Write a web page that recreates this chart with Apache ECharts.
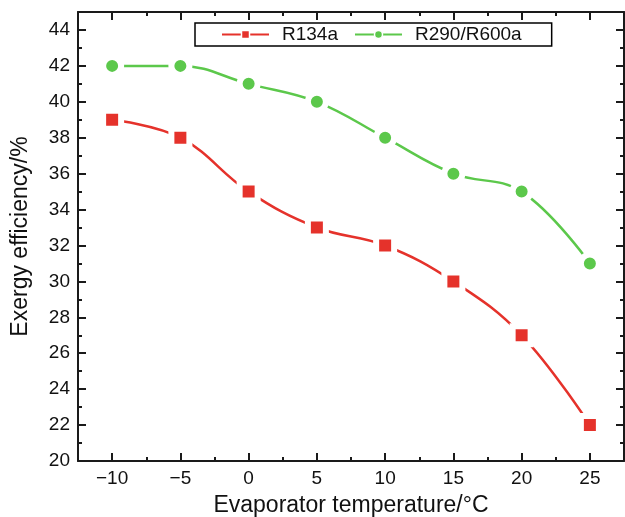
<!DOCTYPE html>
<html>
<head>
<meta charset="utf-8">
<script src="https://cdn.jsdelivr.net/npm/echarts@6/dist/echarts.min.js"></script>
<style>
  html, body { margin: 0; padding: 0; background: #fff; }
  #chart { width: 625px; height: 517px; }
</style>
</head>
<body>
<div id="chart"></div>
<script>
// Evaporator temperature (°C)
const temperatures = [-10, -5, 0, 5, 10, 15, 20, 25];
// Exergy efficiency (%) for each refrigerant
const r134a = [39, 38, 35, 33, 32, 30, 27, 22];
const r290r600a = [42, 42, 41, 40, 38, 36, 35, 31];
// Axis tick values
const xMajorTicks = [-10, -5, 0, 5, 10, 15, 20, 25];
const xMinorTicks = [-7.5, -2.5, 2.5, 7.5, 12.5, 17.5, 22.5];
const yMajorTicks = [20, 22, 24, 26, 28, 30, 32, 34, 36, 38, 40, 42, 44];
const yMinorTicks = [21, 23, 25, 27, 29, 31, 33, 35, 37, 39, 41, 43];

const FONT = '"Liberation Sans", Arial, Helvetica, sans-serif';
const X_MIN = -12.5, X_MAX = 27.5, Y_MIN = 20, Y_MAX = 45;
const lineColor = '#1a1a1a';

function axisDef(position, min, max, ticks, len, showLine, opts) {
  return Object.assign({
    type: 'value', position: position, min: min, max: max,
    splitLine: { show: false },
    axisLine: { show: showLine, onZero: false, lineStyle: { color: lineColor, width: 2 } },
    axisTick: { show: true, inside: true, length: len, customValues: ticks,
                lineStyle: { color: lineColor, width: 2 } },
    axisLabel: { show: false }
  }, opts || {});
}

const chart = echarts.init(document.getElementById('chart'), null, { renderer: 'canvas' });

chart.setOption({
  animation: false,
  backgroundColor: '#fff',
  grid: { left: 78, right: 1, top: 12, bottom: 56, outerBoundsMode: 'none' },
  legend: {
    left: 195, top: 23,
    orient: 'horizontal',
    borderColor: '#000', borderWidth: 1.5,
    padding: [2, 30, 2, 26],
    itemGap: 16,
    itemWidth: 47, itemHeight: 10,
    itemStyle: { borderWidth: 1.5 },
    textStyle: { fontFamily: FONT, fontSize: 19, color: '#111', padding: [0, 0, 0, 8] },
    data: ['R134a', 'R290/R600a']
  },
  xAxis: [
    axisDef('bottom', X_MIN, X_MAX, xMajorTicks, 8, true, {
      name: 'Evaporator temperature/°C',
      nameLocation: 'middle', nameGap: 33,
      nameTextStyle: { fontFamily: FONT, fontSize: 23, color: '#111' },
      axisLabel: { show: true, customValues: xMajorTicks, margin: 8,
                   fontFamily: FONT, fontSize: 19, color: '#111',
                   formatter: v => (v < 0 ? '\u2212' + Math.abs(v) : String(v)) }
    }),
    axisDef('bottom', X_MIN, X_MAX, xMinorTicks, 4, false),
    axisDef('top', X_MIN, X_MAX, xMajorTicks, 8, true),
    axisDef('top', X_MIN, X_MAX, xMinorTicks, 4, false)
  ],
  yAxis: [
    axisDef('left', Y_MIN, Y_MAX, yMajorTicks, 8, true, {
      name: 'Exergy efficiency/%',
      nameLocation: 'middle', nameGap: 46,
      nameTextStyle: { fontFamily: FONT, fontSize: 23, color: '#111' },
      axisLabel: { show: true, customValues: yMajorTicks, margin: 8,
                   fontFamily: FONT, fontSize: 19, color: '#111' }
    }),
    axisDef('left', Y_MIN, Y_MAX, yMinorTicks, 4, false),
    axisDef('right', Y_MIN, Y_MAX, yMajorTicks, 8, true),
    axisDef('right', Y_MIN, Y_MAX, yMinorTicks, 4, false)
  ],
  series: [
    {
      name: 'R134a', type: 'line', xAxisIndex: 0, yAxisIndex: 0,
      data: temperatures.map((t, i) => [t, r134a[i]]),
      smooth: 0.4,
      symbol: 'rect', symbolSize: 18,
      lineStyle: { color: '#e5322b', width: 2.5 },
      itemStyle: { color: '#e5322b', borderColor: '#fff', borderWidth: 6 },
      z: 3
    },
    {
      name: 'R290/R600a', type: 'line', xAxisIndex: 0, yAxisIndex: 0,
      data: temperatures.map((t, i) => [t, r290r600a[i]]),
      smooth: 0.4,
      symbol: 'circle', symbolSize: 18,
      lineStyle: { color: '#5cc84b', width: 2.5 },
      itemStyle: { color: '#5cc84b', borderColor: '#fff', borderWidth: 6 },
      z: 3
    }
  ]
});
</script>
</body>
</html>
